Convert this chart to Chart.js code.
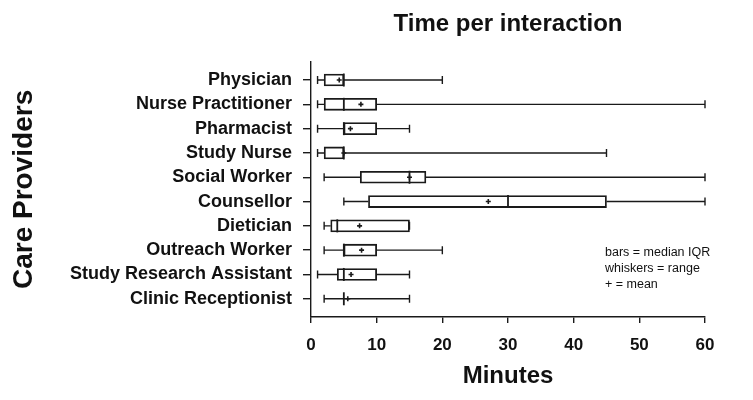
<!DOCTYPE html>
<html>
<head>
<meta charset="utf-8">
<script src="https://cdn.jsdelivr.net/npm/chart.js@4"></script>
<style>
  html, body { margin: 0; padding: 0; background: #fff; }
  #wrap { width: 753px; height: 400px; }
</style>
</head>
<body>
<div id="wrap"><canvas id="chart"></canvas></div>
<script>
const providers = [
  "Physician",
  "Nurse Practitioner",
  "Pharmacist",
  "Study Nurse",
  "Social Worker",
  "Counsellor",
  "Dietician",
  "Outreach Worker",
  "Study Research Assistant",
  "Clinic Receptionist"
];
// minutes per interaction
const mins    = [1, 1, 1, 1, 2, 5, 2, 2, 1, 2];
const q1      = [2, 2, 5, 2, 7.5, 8.75, 3, 5, 4, 5];
const medians = [5, 5, 5, 5, 15, 30, 4, 5, 5, 5];
const q3      = [5, 10, 10, 5, 17.5, 45, 15, 10, 10, 5];
const maxs    = [20, 60, 15, 45, 60, 60, 15, 20, 15, 15];
const means   = [4.3, 7.6, 6, 5, 15, 27, 7.4, 7.7, 6.1, 5.6];
const xTicks  = [0, 10, 20, 30, 40, 50, 60];
const noteLines = ["bars = median IQR", "whiskers = range", "+ = mean"];

const ink = "#1a1a1a";
const fontFam = "'Liberation Sans', Arial, sans-serif";

// whiskers, medians and means on top of the IQR bars
const boxExtras = {
  id: "boxExtras",
  afterDatasetsDraw(chart) {
    const { ctx, scales: { x, y } } = chart;
    ctx.save();
    ctx.strokeStyle = ink;
    providers.forEach((p, i) => {
      const cy = y.getPixelForValue(i);
      const xMin = x.getPixelForValue(mins[i]);
      const xQ1 = x.getPixelForValue(q1[i]);
      const xQ3 = x.getPixelForValue(q3[i]);
      const xMax = x.getPixelForValue(maxs[i]);
      const xMed = x.getPixelForValue(medians[i]);
      const xMean = x.getPixelForValue(means[i]);
      ctx.lineWidth = 1.4;
      ctx.beginPath();
      ctx.moveTo(xMin, cy); ctx.lineTo(xQ1, cy);
      ctx.moveTo(xQ3, cy); ctx.lineTo(xMax, cy);
      // caps
      ctx.moveTo(xMin, cy - 4); ctx.lineTo(xMin, cy + 4);
      ctx.moveTo(xMax, cy - 4); ctx.lineTo(xMax, cy + 4);
      ctx.stroke();
      // median
      ctx.lineWidth = 1.8;
      ctx.beginPath();
      ctx.moveTo(xMed, cy - 6.5); ctx.lineTo(xMed, cy + 6.5);
      ctx.stroke();
      // mean
      ctx.lineWidth = 1.6;
      ctx.beginPath();
      ctx.moveTo(xMean - 2.5, cy); ctx.lineTo(xMean + 2.5, cy);
      ctx.moveTo(xMean, cy - 2.5); ctx.lineTo(xMean, cy + 2.5);
      ctx.stroke();
    });
    // key
    ctx.fillStyle = "#111";
    ctx.font = "12.5px " + fontFam;
    ctx.textBaseline = "middle";
    noteLines.forEach((t, k) => ctx.fillText(t, 605, 253 + k * 16));
    ctx.restore();
  }
};

new Chart(document.getElementById("chart"), {
  type: "bar",
  data: {
    datasets: [{
      data: providers.map((p, i) => ({ x: [q1[i], q3[i]], y: i })),
      backgroundColor: "#fff",
      borderColor: ink,
      borderWidth: 1.8,
      borderSkipped: false,
      barThickness: 12
    }]
  },
  options: {
    indexAxis: "y",
    responsive: true,
    maintainAspectRatio: false,
    animation: false,
    layout: { padding: { left: 0, right: 48, top: 0, bottom: 0 } },
    plugins: {
      legend: { display: false },
      tooltip: { enabled: false },
      title: {
        display: true,
        text: "Time per interaction",
        fullSize: false,
        color: "#111",
        font: { family: fontFam, size: 24, weight: "bold" },
        padding: { top: 10, bottom: 23 }
      }
    },
    scales: {
      x: {
        type: "linear",
        min: 0,
        max: 60,
        afterFit: (s) => { s.height = 83; },
        afterBuildTicks: (s) => { s.ticks = xTicks.map(v => ({ value: v })); },
        ticks: {
          color: "#111",
          padding: 12,
          font: { family: fontFam, size: 17, weight: "bold" }
        },
        grid: { drawOnChartArea: false, drawTicks: true, tickLength: 6, color: ink, lineWidth: 1.4 },
        border: { display: true, color: ink, width: 1.4 },
        title: {
          display: true,
          text: "Minutes",
          color: "#111",
          font: { family: fontFam, size: 24, weight: "bold" },
          padding: { top: 0, bottom: 9 }
        }
      },
      y: {
        type: "linear",
        reverse: true,
        offset: false,
        min: -0.75,
        max: 9.75,
        afterFit: (s) => { s.width = 311; },
        afterBuildTicks: (s) => { s.ticks = providers.map((p, i) => ({ value: i })); },
        ticks: {
          autoSkip: false,
          color: "#111",
          padding: 11,
          callback: (v) => providers[v],
          font: { family: fontFam, size: 18, weight: "bold" }
        },
        grid: { offset: false, drawOnChartArea: false, drawTicks: true, tickLength: 8, color: ink, lineWidth: 1.4 },
        border: { display: true, color: ink, width: 1.4 },
        title: {
          display: true,
          text: "Care Providers",
          color: "#111",
          font: { family: fontFam, size: 28, weight: "bold" },
          padding: { top: 7, bottom: 0 }
        }
      }
    }
  },
  plugins: [boxExtras]
});
</script>
</body>
</html>
